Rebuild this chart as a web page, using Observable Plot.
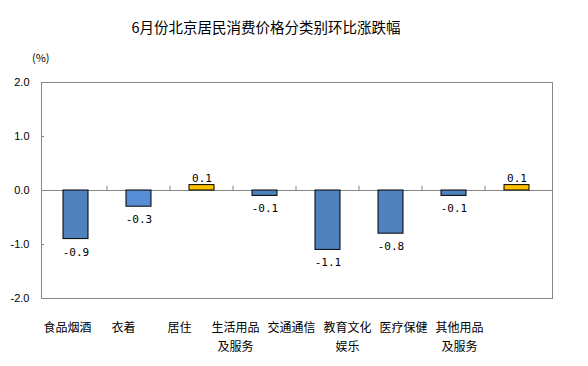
<!DOCTYPE html>
<html><head><meta charset="utf-8">
<script src="https://cdn.jsdelivr.net/npm/d3@7"></script>
<script src="https://cdn.jsdelivr.net/npm/@observablehq/plot@0.6"></script>
<style>
body{margin:0;background:#fff;}
#wrap{position:relative;width:588px;height:366px;overflow:hidden;font-family:"Noto Sans CJK SC",sans-serif;background:#fff;}
#wrap svg{position:absolute;left:0;top:0;}
#title{position:absolute;left:0;width:532px;top:17px;text-align:center;font-size:14.5px;line-height:20px;color:#000;}
#unit{position:absolute;left:32px;top:49px;font-size:11px;line-height:16px;color:#000;}
</style></head><body>
<div id="wrap"><div id="title">6月份北京居民消费价格分类别环比涨跌幅</div><div id="unit">(%)</div></div>
<script>
const categories = ["食品烟酒","衣着","居住","生活用品\n及服务","交通通信","教育文化\n娱乐","医疗保健","其他用品\n及服务"];
const values = [-0.9,-0.3,0.1,-0.1,-1.1,-0.8,-0.1,0.1];
const valueLabels = ["-0.9","-0.3","0.1","-0.1","-1.1","-0.8","-0.1","0.1"];
const yTicks = [-2,-1,0,1,2];
const yTickLabels = ["-2.0","-1.0","0.0","1.0","2.0"];

const data = categories.map((c,i)=>({cat:c, value:values[i], label:valueLabels[i]}));
const barFill = ["#4F81BD","#558ED5","#FFC000","#4F81BD","#4F81BD","#4F81BD","#4F81BD","#FFC000"];
const grey = "#868686";

const main = Plot.plot({
  width:588, height:366,
  marginTop:82, marginBottom:68, marginLeft:41, marginRight:36,
  style:{background:"transparent", fontFamily:"Liberation Sans, Arial, sans-serif"},
  x:{type:"band", domain:categories, paddingInner:0.6, paddingOuter:0.3, axis:null},
  y:{domain:[-2,2]},
  marks:[
    Plot.ruleY([0],{stroke:grey, strokeWidth:1}),
    Plot.ruleX(categories.slice(1),{x:d=>d, y1:0, y2:0.08, dx:-32, stroke:grey}),
    Plot.barY(data,{x:"cat", y:"value", fill:(d,i)=>barFill[i], stroke:"#000", strokeWidth:1}),
    Plot.text(data.filter(d=>d.value<0),{x:"cat", y:"value", text:"label", dy:13, fontFamily:"DejaVu Sans Mono, monospace", fontSize:11, fill:"#000"}),
    Plot.text(data.filter(d=>d.value>=0),{x:"cat", y:"value", text:"label", dy:-7, fontFamily:"DejaVu Sans Mono, monospace", fontSize:11, fill:"#000"}),
    Plot.axisY({ticks:yTicks, tickFormat:(d)=>yTickLabels[yTicks.indexOf(d)], tickSize:-3, tickPadding:15, fontSize:11, stroke:grey, fill:"#000", label:null}),
    Plot.frame({stroke:grey})
  ]
});
document.getElementById("wrap").appendChild(main);

const labels = Plot.plot({
  width:588, height:366,
  marginTop:82, marginBottom:68, marginLeft:36, marginRight:98,
  style:{background:"transparent", fontFamily:"Noto Sans CJK SC, sans-serif"},
  x:{type:"band", domain:categories, padding:0},
  marks:[
    Plot.axisX({tickSize:0, tickPadding:20, fontSize:12, lineHeight:1.58, fill:"#000", label:null})
  ]
});
document.getElementById("wrap").appendChild(labels);
</script>
</body></html>
